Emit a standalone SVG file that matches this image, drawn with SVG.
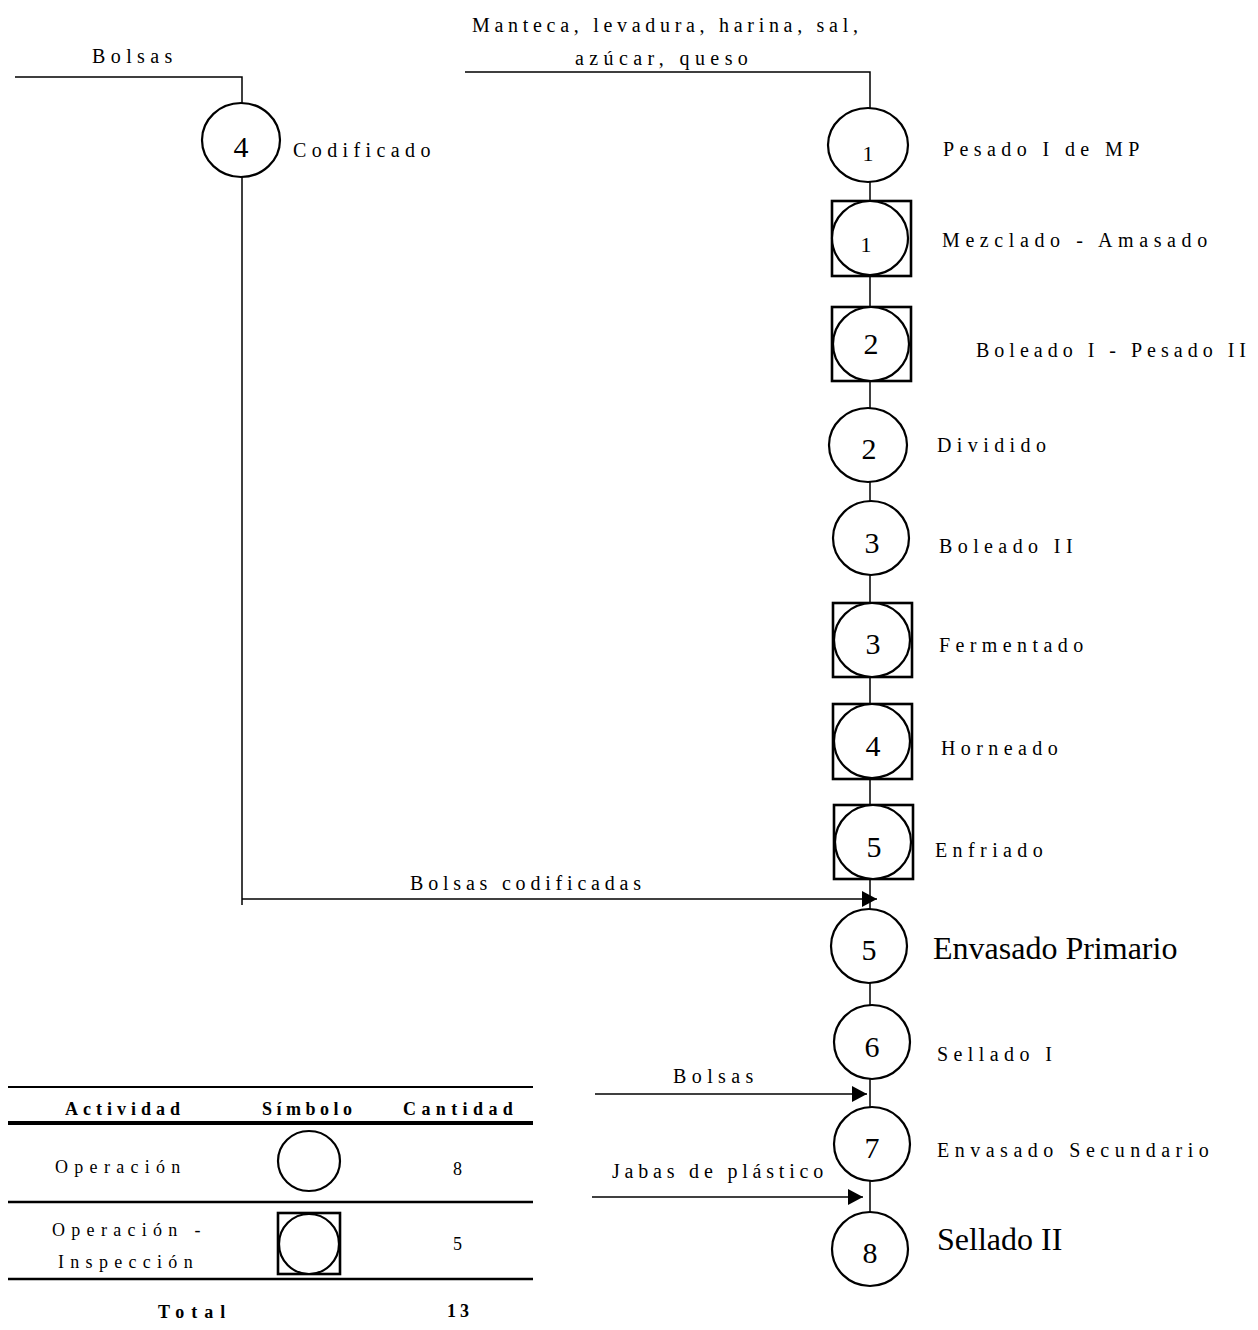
<svg xmlns="http://www.w3.org/2000/svg" width="1258" height="1330" viewBox="0 0 1258 1330">
<style>
text{font-family:"Liberation Serif","Times New Roman",serif;fill:#000}
.lbl{font-size:20px;letter-spacing:5.4px}
.big{font-size:32px}
.num{font-size:30px;text-anchor:middle}
.sm{font-size:22px;text-anchor:middle}
.sh{fill:#fff;stroke:#000;stroke-width:2.2}
.bx{fill:#fff;stroke:#000;stroke-width:2.6}
.ln{fill:none;stroke:#000;stroke-width:1.5}
.th{font-size:18px;font-weight:bold;letter-spacing:5px}
.td{font-size:18px;letter-spacing:6.3px}
.tl{stroke:#000}
</style>
<defs>
<marker id="ah" markerUnits="userSpaceOnUse" markerWidth="15" markerHeight="16" refX="15" refY="8" orient="auto">
<path d="M0,0 L15,8 L0,16 z" fill="#000"/>
</marker>
</defs>
<g id="connectors">
<polyline class="ln" points="15,77 242,77 242,905"/>
<polyline class="ln" points="465,72 870,72 870,1212"/>
<line class="ln" x1="242" y1="899" x2="877" y2="899" marker-end="url(#ah)"/>
<line class="ln" x1="595" y1="1094" x2="867" y2="1094" marker-end="url(#ah)"/>
<line class="ln" x1="592" y1="1197" x2="863" y2="1197" marker-end="url(#ah)"/>
</g>
<g id="flow-labels">
<text class="lbl" x="92" y="63">Bolsas</text>
<text class="lbl" x="472" y="32" style="letter-spacing:4.7px">Manteca, levadura, harina, sal,</text>
<text class="lbl" x="575" y="65" style="letter-spacing:5.4px">azúcar, queso</text>
<text class="lbl" x="410" y="890" style="letter-spacing:4.8px">Bolsas codificadas</text>
<text class="lbl" x="673" y="1083">Bolsas</text>
<text class="lbl" x="612" y="1178" style="letter-spacing:4.8px">Jabas de plástico</text>
</g>
<g id="n-op4">
<ellipse class="sh" cx="241" cy="140" rx="39" ry="37"/>
<text class="num" x="241" y="157">4</text>
<text class="lbl" x="293" y="157">Codificado</text>
</g>
<g id="n-op1">
<ellipse class="sh" cx="868" cy="145" rx="40" ry="37"/>
<text class="sm" x="868" y="161">1</text>
<text class="lbl" x="943" y="156">Pesado I de MP</text>
</g>
<g id="n-oi1">
<rect class="bx" x="832" y="201" width="79" height="75"/>
<ellipse class="sh" cx="870" cy="238" rx="38" ry="37"/>
<text class="sm" x="866" y="252">1</text>
<text class="lbl" x="942" y="247" style="letter-spacing:5.6px">Mezclado - Amasado</text>
</g>
<g id="n-oi2">
<rect class="bx" x="832" y="307" width="79" height="74"/>
<ellipse class="sh" cx="871" cy="344" rx="38" ry="37"/>
<text class="num" x="871" y="354">2</text>
<text class="lbl" x="976" y="357" style="letter-spacing:5px">Boleado I - Pesado II</text>
</g>
<g id="n-op2">
<ellipse class="sh" cx="868" cy="445" rx="39" ry="37"/>
<text class="num" x="869" y="459">2</text>
<text class="lbl" x="937" y="452">Dividido</text>
</g>
<g id="n-op3">
<ellipse class="sh" cx="871" cy="538" rx="38" ry="37"/>
<text class="num" x="872" y="553">3</text>
<text class="lbl" x="939" y="553">Boleado II</text>
</g>
<g id="n-oi3">
<rect class="bx" x="833" y="603" width="79" height="74"/>
<ellipse class="sh" cx="872" cy="640" rx="38" ry="37"/>
<text class="num" x="873" y="654">3</text>
<text class="lbl" x="939" y="652">Fermentado</text>
</g>
<g id="n-oi4">
<rect class="bx" x="833" y="704" width="79" height="75"/>
<ellipse class="sh" cx="872" cy="741" rx="38" ry="37"/>
<text class="num" x="873" y="756">4</text>
<text class="lbl" x="941" y="755">Horneado</text>
</g>
<g id="n-oi5">
<rect class="bx" x="834" y="805" width="79" height="74"/>
<ellipse class="sh" cx="873" cy="842" rx="38" ry="37"/>
<text class="num" x="874" y="857">5</text>
<text class="lbl" x="935" y="857">Enfriado</text>
</g>
<g id="n-op5">
<ellipse class="sh" cx="869" cy="946" rx="38" ry="37"/>
<text class="num" x="869" y="960">5</text>
<text class="big" x="933" y="959">Envasado Primario</text>
</g>
<g id="n-op6">
<ellipse class="sh" cx="872" cy="1042" rx="38" ry="37"/>
<text class="num" x="872" y="1057">6</text>
<text class="lbl" x="937" y="1061">Sellado I</text>
</g>
<g id="n-op7">
<ellipse class="sh" cx="872" cy="1144" rx="38" ry="37"/>
<text class="num" x="872" y="1158">7</text>
<text class="lbl" x="937" y="1157" style="letter-spacing:5.5px">Envasado Secundario</text>
</g>
<g id="n-op8">
<ellipse class="sh" cx="870" cy="1249" rx="38" ry="37"/>
<text class="num" x="870" y="1263">8</text>
<text class="big" x="937" y="1250">Sellado II</text>
</g>
<g id="summary-table">
<line class="tl" x1="8" y1="1087" x2="533" y2="1087" stroke-width="2"/>
<line class="tl" x1="8" y1="1123" x2="533" y2="1123" stroke-width="4"/>
<line class="tl" x1="8" y1="1202" x2="533" y2="1202" stroke-width="2.6"/>
<line class="tl" x1="8" y1="1279" x2="533" y2="1279" stroke-width="2.6"/>
<text class="th" x="65" y="1115">Actividad</text>
<text class="th" x="262" y="1115" style="letter-spacing:4.5px">Símbolo</text>
<text class="th" x="403" y="1115" style="letter-spacing:5.4px">Cantidad</text>
<text class="td" x="55" y="1173">Operación</text>
<ellipse class="sh" cx="309" cy="1161" rx="31" ry="30"/>
<text class="td" x="453" y="1175" style="letter-spacing:0">8</text>
<text class="td" x="52" y="1236">Operación -</text>
<text class="td" x="58" y="1268">Inspección</text>
<rect class="bx" x="278" y="1213" width="62" height="61"/>
<ellipse class="sh" cx="309" cy="1244" rx="30" ry="30"/>
<text class="td" x="453" y="1250" style="letter-spacing:0">5</text>
<text class="th" x="158" y="1318" style="letter-spacing:7px">Total</text>
<text class="th" x="447" y="1317" style="letter-spacing:4px">13</text>
</g>
</svg>
